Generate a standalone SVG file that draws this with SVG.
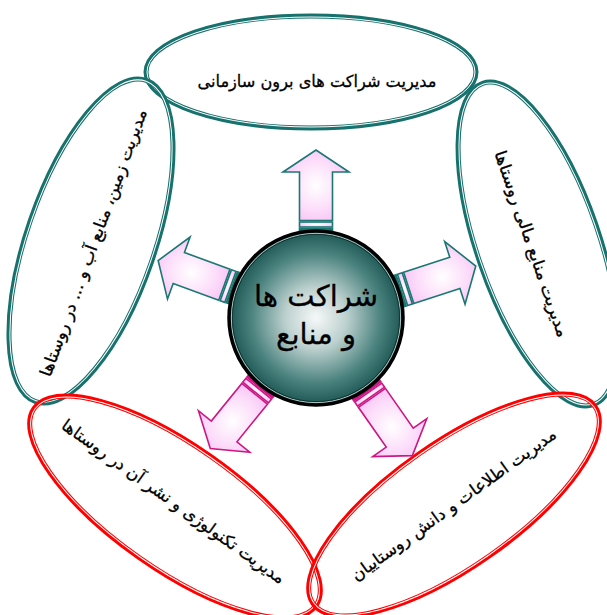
<svg xmlns="http://www.w3.org/2000/svg" width="607" height="615" viewBox="0 0 607 615">
<defs>
<radialGradient id="pink" cx="0.5" cy="0.5" r="0.6">
<stop offset="0" stop-color="#ffffff"/>
<stop offset="0.6" stop-color="#fcdcfa"/>
<stop offset="1" stop-color="#f7bff4"/>
</radialGradient>
<radialGradient id="ball" cx="0.5" cy="0.5" r="0.5">
<stop offset="0" stop-color="#f6f8f8"/>
<stop offset="0.35" stop-color="#bdd1cf"/>
<stop offset="0.75" stop-color="#4a827e"/>
<stop offset="1" stop-color="#1c5652"/>
</radialGradient>
<g id="arrowT">
<rect x="86" y="-16.5" width="3.5" height="33" fill="currentColor"/>
<rect x="91" y="-16.5" width="5" height="33" fill="url(#pink)"/>
<polygon points="97.5,-16.5 146,-16.5 146,-33 168,0 146,33 146,16.5 97.5,16.5" fill="url(#pink)"/>
</g>
</defs>
<style>
.el{fill:none;stroke-width:5}
.in{fill:none;stroke:#ffffff;stroke-width:1}
.teal{stroke:#17716d}
.red{stroke:#ff0000}
.at{stroke:#1b7772;color:#1b7772;stroke-width:1.6}
.am{stroke:#cc1783;color:#cc1783;stroke-width:1.6}
.lbl{font-family:"DejaVu Sans","Noto Sans",sans-serif;font-size:16.5px;fill:#000000;stroke:#000000;stroke-width:0.3;text-anchor:middle}
.ctr{font-family:"DejaVu Sans","Noto Sans",sans-serif;font-size:29px;fill:#000000;stroke:#000000;stroke-width:0.3;text-anchor:middle}
</style>
<rect width="607" height="615" fill="#ffffff"/>

<g id="node-top">
<ellipse class="el teal" cx="311" cy="72" rx="165" ry="56"/>
<ellipse class="in" cx="311" cy="72" rx="164" ry="55"/>
<text class="lbl" x="317" y="87" direction="rtl" textLength="239" lengthAdjust="spacingAndGlyphs">مدیریت شراکت های برون سازمانی</text>
</g>
<g id="node-right">
<g transform="translate(538,244) rotate(71)">
<ellipse class="el teal" cx="0" cy="0" rx="170" ry="61"/>
<ellipse class="in" cx="0" cy="0" rx="169" ry="60"/>
</g>
<text class="lbl" transform="translate(531,244) rotate(71)" x="0" y="5" direction="rtl" textLength="196" lengthAdjust="spacingAndGlyphs">مدیریت منابع مالی روستاها</text>
</g>
<g id="node-left">
<g transform="translate(91,241) rotate(-71)">
<ellipse class="el teal" cx="0" cy="0" rx="170" ry="64"/>
<ellipse class="in" cx="0" cy="0" rx="169" ry="63"/>
</g>
<text class="lbl" transform="translate(94,243) rotate(-70)" x="0" y="5" direction="rtl" textLength="283" lengthAdjust="spacingAndGlyphs">مدیریت زمین، منابع آب و ... در روستاها</text>
</g>
<g id="node-bottom-left">
<g transform="translate(175,507) rotate(35)">
<ellipse class="el red" cx="0" cy="0" rx="172" ry="62"/>
<ellipse class="in" cx="0" cy="0" rx="171" ry="61"/>
</g>
<text class="lbl" transform="translate(173,502) rotate(35.5)" x="0" y="5" direction="rtl" textLength="270" lengthAdjust="spacingAndGlyphs">مدیریت تکنولوژی و نشر آن در روستاها</text>
</g>
<g id="node-bottom-right">
<g transform="translate(454,505) rotate(-35)">
<ellipse class="el red" cx="0" cy="0" rx="172" ry="62"/>
<ellipse class="in" cx="0" cy="0" rx="171" ry="61"/>
</g>
<text class="lbl" transform="translate(454,505) rotate(-35.7)" x="0" y="5" direction="rtl" textLength="248" lengthAdjust="spacingAndGlyphs">مدیریت اطلاعات و دانش روستاییان</text>
</g>

<g id="connectors">
<use class="at" href="#arrowT" transform="translate(316,318) rotate(-90)"/>
<use class="at" href="#arrowT" transform="translate(316,318) rotate(-18)"/>
<use class="at" href="#arrowT" transform="translate(316,318) rotate(200)"/>
<use class="am" href="#arrowT" transform="translate(316,318) rotate(55)"/>
<use class="am" href="#arrowT" transform="translate(316,318) rotate(129)"/>
</g>

<g id="node-center">
<circle cx="316" cy="318" r="87" fill="url(#ball)" stroke="#000000" stroke-width="3.5"/>
<circle cx="316" cy="318" r="84.6" fill="none" stroke="#d8e2e1" stroke-width="0.8"/>
<circle cx="316" cy="318" r="83.6" fill="none" stroke="#0d2e2c" stroke-width="0.9"/>
<text class="ctr" x="316" y="306" direction="rtl">شراکت ها</text>
<text class="ctr" x="316" y="344" direction="rtl">و منابع</text>
</g>
</svg>
